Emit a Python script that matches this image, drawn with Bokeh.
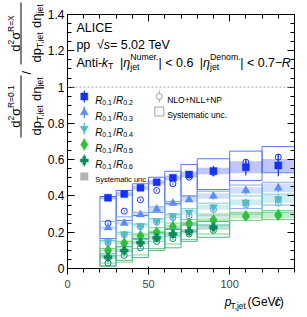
import math
from bokeh.plotting import figure
from bokeh.layouts import row, column
from bokeh.models import Label, LinearAxis, FixedTicker, Range1d, Span
from bokeh.embed import file_html
from bokeh.resources import INLINE

# ---------------- data ----------------
pt_lo = [20, 30, 40, 50, 60, 70, 80, 100, 120]
pt_hi = [30, 40, 50, 60, 70, 80, 100, 120, 140]

# data: sigma(R=0.1)/sigma(R=X)
r02 = [0.39, 0.41, 0.445, 0.475, 0.50, 0.518, 0.537, 0.558, 0.568]
r02_stat = [0.006, 0.007, 0.008, 0.009, 0.011, 0.014, 0.03, 0.045, 0.06]
r02_sys = [0.01, 0.01, 0.011, 0.012, 0.013, 0.015, 0.018, 0.033, 0.036]

r03 = [0.225, 0.25, 0.297, 0.327, 0.36, 0.379, 0.40, 0.43, 0.444]
r03_stat = [0.005, 0.006, 0.007, 0.008, 0.009, 0.011, 0.02, 0.022, 0.025]
r03_sys = [0.008, 0.008, 0.009, 0.01, 0.011, 0.012, 0.015, 0.018, 0.024]

r04 = [0.147, 0.19, 0.235, 0.262, 0.29, 0.31, 0.338, 0.365, 0.384]
r04_stat = [0.005, 0.006, 0.007, 0.008, 0.009, 0.01, 0.018, 0.02, 0.025]
r04_sys = [0.008, 0.008, 0.009, 0.01, 0.011, 0.012, 0.014, 0.017, 0.022]

r05 = [0.10, 0.14, 0.18, 0.20, 0.232, 0.248, 0.268, 0.29, 0.295]
r05_stat = [0.006, 0.007, 0.008, 0.009, 0.01, 0.011, 0.018, 0.025, 0.03]
r05_sys = [0.007, 0.008, 0.009, 0.01, 0.011, 0.012, 0.013, 0.015, 0.018]

r06 = [0.062, 0.099, 0.143, 0.17, 0.19, 0.206, 0.228]
r06_stat = [0.008, 0.008, 0.009, 0.01, 0.011, 0.013, 0.018]
r06_sys = [0.008, 0.008, 0.009, 0.01, 0.011, 0.012, 0.014]

# NLO+NLL+NP
th02 = [0.25, 0.316, 0.379, 0.43, 0.467, 0.503, 0.53, 0.586, 0.614]
th02_lo = [0.165, 0.265, 0.292, 0.31, 0.357, 0.40, 0.435, 0.485, 0.528]
th02_hi = [0.397, 0.43, 0.467, 0.503, 0.536, 0.573, 0.605, 0.647, 0.672]

th03 = [0.142, 0.186, 0.23, 0.255, 0.28, 0.29, 0.325, 0.36, 0.38]
th03_lo = [0.07, 0.12, 0.16, 0.19, 0.22, 0.25, 0.29, 0.33, 0.35]
th03_hi = [0.26, 0.285, 0.31, 0.34, 0.37, 0.395, 0.426, 0.46, 0.475]

th04 = [0.097, 0.137, 0.177, 0.197, 0.228, 0.242, 0.265, 0.35, 0.36]
th04_lo = [0.03, 0.07, 0.11, 0.15, 0.175, 0.205, 0.24, 0.30, 0.31]
th04_hi = [0.154, 0.2, 0.245, 0.275, 0.30, 0.33, 0.36, 0.40, 0.41]

th05 = [0.06, 0.097, 0.14, 0.167, 0.187, 0.203, 0.226, 0.287, 0.292]
th05_lo = [0.01, 0.035, 0.075, 0.11, 0.135, 0.16, 0.19, 0.265, 0.27]
th05_hi = [0.11, 0.15, 0.19, 0.225, 0.25, 0.27, 0.30, 0.31, 0.32]

th06 = [0.03, 0.072, 0.114, 0.149, 0.165, 0.19, 0.21]
th06_lo = [0.015, 0.045, 0.06, 0.10, 0.114, 0.15, 0.172]
th06_hi = [0.08, 0.12, 0.165, 0.20, 0.215, 0.24, 0.26]

th_err = [0.005, 0.006, 0.007, 0.008, 0.009, 0.01, 0.012, 0.015, 0.018]

x_ticks = [0, 50, 100]
x_tick_labels = ["0", "50", "100"]
x_minor = [0, 10, 20, 30, 40, 50, 60, 70, 80, 90, 100, 110, 120, 130, 140]
y_ticks = [0, 0.2, 0.4, 0.6, 0.8, 1.0, 1.2, 1.4]
y_tick_labels = ["0", "0.2", "0.4", "0.6", "0.8", "1", "1.2", "1.4"]
y_minor = [round(i * 0.05, 2) for i in range(29)]

legend_names = ["0.2", "0.3", "0.4", "0.5", "0.6"]

# ---------------- layout (page pixels) ----------------
FONT = "Liberation Sans"
TOTAL_W, TOTAL_H = 307, 317
LEFT_W = 44           # width of the y-title strip
BOT_H = 27            # height of the x-title strip
FR_L, FR_R, FR_T, FR_B = 64, 294, 14, 268   # plot frame in page pixels
X0, X1, Y0, Y1 = 0, 140, 0, 1.4

MW = TOTAL_W - LEFT_W
MH = TOTAL_H - BOT_H


def dx(px):
    return X0 + (px - FR_L) * (X1 - X0) / (FR_R - FR_L)


def dy(py):
    return Y1 - (py - FR_T) * (Y1 - Y0) / (FR_B - FR_T)


p = figure(width=MW, height=MH, x_range=Range1d(X0, X1), y_range=Range1d(Y0, Y1),
           output_backend="svg", toolbar_location=None,
           min_border_left=FR_L - LEFT_W, min_border_right=TOTAL_W - FR_R,
           min_border_top=FR_T, min_border_bottom=MH - FR_B)
p.xgrid.visible = False
p.ygrid.visible = False
p.outline_line_color = "black"
p.background_fill_color = "white"
p.border_fill_color = "white"

p.xaxis.ticker = FixedTicker(ticks=x_ticks, minor_ticks=x_minor)
p.yaxis.ticker = FixedTicker(ticks=y_ticks, minor_ticks=y_minor)
p.xaxis.major_label_overrides = dict(zip(x_ticks, x_tick_labels))
p.yaxis.major_label_overrides = dict(zip(y_ticks, y_tick_labels))

top_ax = LinearAxis(ticker=FixedTicker(ticks=x_ticks, minor_ticks=x_minor))
right_ax = LinearAxis(ticker=FixedTicker(ticks=y_ticks, minor_ticks=y_minor))
p.add_layout(top_ax, "above")
p.add_layout(right_ax, "right")

for ax in [p.xaxis[0], p.yaxis[0], top_ax, right_ax]:
    ax.major_tick_in = 7
    ax.major_tick_out = 0
    ax.minor_tick_in = 4
    ax.minor_tick_out = 0
    ax.axis_line_color = "black"
    ax.major_tick_line_color = "black"
    ax.minor_tick_line_color = "black"
    ax.major_label_text_font = FONT
    ax.major_label_text_font_size = "12px"
    ax.major_label_text_color = "black"
top_ax.major_label_overrides = {t: "" for t in x_ticks}
right_ax.major_label_overrides = {t: "" for t in y_ticks}
for ax in [top_ax, right_ax]:
    ax.major_label_text_font_size = "1px"
    ax.major_label_standoff = 0
p.xaxis[0].major_label_standoff = 6
p.yaxis[0].major_label_standoff = 3

p.add_layout(Span(location=1.0, dimension="width", line_color="#a8a8a8",
                  line_dash="2 2", line_width=1))

series = [
    dict(y=r02, st=r02_stat, sy=r02_sys, th=th02, tlo=th02_lo, thi=th02_hi,
         c="#1432f5", tc="#5a78f0", m="square", s=7),
    dict(y=r03, st=r03_stat, sy=r03_sys, th=th03, tlo=th03_lo, thi=th03_hi,
         c="#5a8cf8", tc="#86aafa", m="triangle", s=8),
    dict(y=r04, st=r04_stat, sy=r04_sys, th=th04, tlo=th04_lo, thi=th04_hi,
         c="#52bcc4", tc="#7ccfcf", m="inverted_triangle", s=8),
    dict(y=r05, st=r05_stat, sy=r05_sys, th=th05, tlo=th05_lo, thi=th05_hi,
         c="#2fbf3a", tc="#78d482", m="diamond", s=11),
    dict(y=r06, st=r06_stat, sy=r06_sys, th=th06, tlo=th06_lo, thi=th06_hi,
         c="#0b8a5c", tc="#55b290", m="plus", s=8),
]

# theory boxes
for sr in series:
    n = len(sr["th"])
    p.quad(left=pt_lo[:n], right=pt_hi[:n], bottom=sr["tlo"], top=sr["thi"],
           fill_alpha=0, line_color=sr["tc"], line_width=1)
# data systematic boxes
for sr in series:
    n = len(sr["y"])
    p.quad(left=pt_lo[:n], right=pt_hi[:n],
           bottom=[v - e for v, e in zip(sr["y"], sr["sy"])],
           top=[v + e for v, e in zip(sr["y"], sr["sy"])],
           fill_color=sr["c"], fill_alpha=0.28, line_color=None)
# theory points
for sr in series:
    n = len(sr["th"])
    xc = [(a + b) / 2 for a, b in zip(pt_lo[:n], pt_hi[:n])]
    p.segment(x0=xc, x1=xc, y0=[v - e for v, e in zip(sr["th"], th_err[:n])],
              y1=[v + e for v, e in zip(sr["th"], th_err[:n])], line_color=sr["tc"], line_width=1)
    p.scatter(x=xc, y=sr["th"], marker="circle", size=6, fill_color="white", fill_alpha=0,
              line_color=sr["c"], line_width=1)
# data points
for sr in series:
    n = len(sr["y"])
    xc = [(a + b) / 2 for a, b in zip(pt_lo[:n], pt_hi[:n])]
    p.segment(x0=xc, x1=xc, y0=[v - e for v, e in zip(sr["y"], sr["st"])],
              y1=[v + e for v, e in zip(sr["y"], sr["st"])], line_color=sr["c"], line_width=1.2)
    p.scatter(x=xc, y=sr["y"], marker=sr["m"], size=sr["s"], fill_color=sr["c"],
              line_color=sr["c"], line_width=0.5)

# ---------------- text helpers ----------------
AW = {'A': 667, 'n': 556, 't': 278, 'i': 222, '-': 333, 'k': 500, 'T': 611, '|': 260,
      'η': 560, 'N': 722, 'u': 556, 'm': 833, 'e': 556, 'r': 333, '.': 278, ' ': 278,
      '<': 584, 'D': 722, 'o': 556, '−': 584, 'R': 722, 'p': 556, 's': 500, '√': 549,
      '=': 584, 'V': 667, 'L': 556, 'O': 778, '+': 584, 'P': 667, 'S': 667, 'y': 500,
      'a': 556, 'c': 500, 'j': 222, ',': 278, 'G': 778, '/': 278, '(': 333, ')': 333,
      'd': 556, 'σ': 600, 'X': 667, 'C': 722, 'I': 278, 'E': 667, 'l': 222}


def tw(s, size):
    return sum(AW.get(ch, 556) for ch in s) * size / 1000.0


def make_put(fig, fx, fy):
    def put(px, py, text, size, style="normal", angle=0.0, align="left"):
        fig.add_layout(Label(x=fx(px), y=fy(py), text=text, text_font=FONT,
                             text_font_size=f"{size}px", text_font_style=style, angle=angle,
                             text_align=align, text_baseline="alphabetic",
                             text_color="black"))
    return put


def run(put, px, py, pieces):
    x = px
    for pc in pieces:
        if pc[0] == "GAP":
            x += pc[1]
            continue
        if pc[0] == "STACK":
            w = 0
            for (t, sz, st, sh) in pc[1]:
                put(x, py + sh, t, sz, st)
                w = max(w, tw(t, sz))
            x += w
            continue
        t, sz, st, sh = pc
        put(x, py + sh, t, sz, st)
        x += tw(t, sz)
    return x


def runv(put, px, py, pieces):
    # text rotated 90 deg counter-clockwise, advancing upward on the page
    y = py
    for pc in pieces:
        if pc[0] == "GAP":
            y -= pc[1]
            continue
        t, sz, st, sh = pc
        put(px + sh, y, t, sz, st, angle=math.pi / 2)
        y -= tw(t, sz)
    return y


def width(pieces):
    w = 0
    for pc in pieces:
        if pc[0] == "GAP":
            w += pc[1]
        else:
            w += tw(pc[0], pc[1])
    return w


put_main = make_put(p, dx, dy)

# ---------------- header texts ----------------
put_main(73, 27, "ALICE", 12.5)
run(put_main, 73, 44.5, [("pp  ", 12.5, "normal", 0), ("√", 12.5, "normal", 0),
                         ("s", 12.5, "italic", 0), (" = 5.02 TeV", 12.5, "normal", 0)])
run(put_main, 73, 62, [("Anti-", 12.5, "normal", 0), ("k", 12.5, "italic", 0),
                       ("T", 8.75, "normal", 3), ("GAP", 7), ("|", 12.5, "normal", 0),
                       ("η", 12.5, "italic", 0),
                       ("STACK", [("Numer.", 8.75, "normal", -5.5), ("jet", 8.75, "normal", 4)]),
                       ("| < 0.6", 12.5, "normal", 0), ("GAP", 7), ("|", 12.5, "normal", 0),
                       ("η", 12.5, "italic", 0),
                       ("STACK", [("Denom.", 8.75, "normal", -5.5), ("jet", 8.75, "normal", 4)]),
                       ("| < 0.7−", 12.5, "normal", 0), ("R", 12.5, "italic", 0)])

# ---------------- legends ----------------
rows = [96, 112, 128, 144, 160]
for sr, yy, nm in zip(series, rows, legend_names):
    p.segment(x0=[dx(81)], x1=[dx(81)], y0=[dy(yy + 6)], y1=[dy(yy - 6)],
              line_color=sr["c"], line_width=1.2)
    p.scatter(x=[dx(81)], y=[dy(yy)], marker=sr["m"], size=sr["s"], fill_color=sr["c"],
              line_color=sr["c"], line_width=0.5)
    run(put_main, 92, yy + 3.5, [("R", 10, "italic", 0), ("0.1", 7, "normal", 2.5),
                                 ("GAP", 1.5), ("/", 10, "normal", 0), ("R", 10, "italic", 0),
                                 (nm, 7, "normal", 2.5)])
p.scatter(x=[dx(81)], y=[dy(176)], marker="square", size=8, fill_color="#b4b4b4",
          line_color=None)
put_main(92, 179, "Systematic unc.", 7.5)

p.segment(x0=[dx(157)], x1=[dx(157)], y0=[dy(102)], y1=[dy(90)], line_color="#a0a0a0",
          line_width=1)
p.scatter(x=[dx(157)], y=[dy(96)], marker="circle", size=6, fill_color="white",
          line_color="#a0a0a0", line_width=1)
put_main(165, 99.5, "NLO+NLL+NP", 8.5)
p.scatter(x=[dx(157)], y=[dy(111)], marker="square", size=9, fill_alpha=0,
          line_color="#a0a0a0", line_width=1)
put_main(165, 114.5, "Systematic unc.", 8.5)

# ---------------- x title strip ----------------
px_fig = figure(width=MW, height=BOT_H, x_range=Range1d(LEFT_W, TOTAL_W),
                y_range=Range1d(0, BOT_H), output_backend="svg", toolbar_location=None,
                x_axis_type=None, y_axis_type=None, min_border=0)
px_fig.outline_line_color = None
px_fig.background_fill_color = "white"
px_fig.border_fill_color = "white"
put_x = make_put(px_fig, lambda v: v, lambda v: TOTAL_H - v)
xt = [("p", 12, "italic", 0), ("T,jet", 8.4, "normal", 4), ("GAP", 3.5),
      ("(GeV/", 12, "normal", 0), ("c", 12, "italic", 0), (")", 12, "normal", 0)]
run(put_x, 294 - width(xt), 301, xt)

# ---------------- y title strip ----------------
py_fig = figure(width=LEFT_W, height=TOTAL_H, x_range=Range1d(0, LEFT_W),
                y_range=Range1d(0, TOTAL_H), output_backend="svg", toolbar_location=None,
                x_axis_type=None, y_axis_type=None, min_border=0)
py_fig.outline_line_color = None
py_fig.background_fill_color = "white"
py_fig.border_fill_color = "white"
fyy = lambda v: TOTAL_H - v
put_y = make_put(py_fig, lambda v: v, fyy)

den = [("dp", 13, "normal", 0), ("T,jet", 8.5, "normal", 3), ("GAP", 3.5),
       ("dη", 13, "normal", 0), ("jet", 8.5, "normal", 3)]
num01 = [("d", 13, "normal", 0), ("2", 8.5, "normal", -5), ("σ", 13, "normal", 0),
         ("R=0.1", 8.5, "normal", -5)]
numX = [("d", 13, "normal", 0), ("2", 8.5, "normal", -5), ("σ", 13, "normal", 0),
        ("R=X", 8.5, "normal", -5)]
bars_x, bars_y0, bars_y1 = [], [], []
for yc, num in [(106, num01), (33, numX)]:
    wd = width(den)
    wn = width(num)
    runv(put_y, 36, yc + wd / 2, den)
    runv(put_y, 15, yc + wn / 2, num)
    bars_x.append(20.5)
    bars_y0.append(fyy(yc + wd / 2 + 2))
    bars_y1.append(fyy(yc - wd / 2 - 2))
py_fig.segment(x0=bars_x, x1=bars_x, y0=bars_y0, y1=bars_y1, line_color="black",
               line_width=1)
put_y(26, 74, "/", 13, angle=math.pi / 2)

layout = row(py_fig, column(p, px_fig))
open("out.html", "w").write(file_html(layout, INLINE))
